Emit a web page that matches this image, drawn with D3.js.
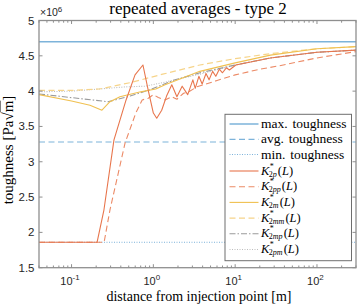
<!DOCTYPE html>
<html><head><meta charset="utf-8">
<script src="https://cdn.jsdelivr.net/npm/d3@7"></script>
<style>body{margin:0;background:#fff}</style></head>
<body>
<svg id="c" width="360" height="306"></svg>
<script>
// ---------- data ----------
const xMajorTicks = [0.1, 1, 10, 100];
const xTickExponents = ["-1", "0", "1", "2"];
const yTicks = [1.5e6, 2e6, 2.5e6, 3e6, 3.5e6, 4e6, 4.5e6, 5e6];
const yTickLabels = ["1.5", "2", "2.5", "3", "3.5", "4", "4.5", "5"];
const xDomain = [0.04, 300];
const yDomain = [1.5e6, 5e6];

const maxToughness = 4.7e6;
const avgToughness = 3.28e6;
const minToughness = 1.86e6;

// [distance (m), toughness (Pa sqrt m)]
const k2p = [[0.04,1.86e6],[0.205,1.86e6],[0.249,2.32e6],[0.33,3.31e6],[0.464,3.875e6],[0.597,4.23e6],[0.746,4.37e6],
  [0.87,4.0e6],[1.0,3.69e6],[1.10,3.616e6],[1.265,3.73e6],[1.45,3.93e6],[1.68,4.09e6],[1.94,3.92e6],[2.25,4.07e6],
  [2.63,3.95e6],[3.04,4.16e6],[3.25,4.04e6],[3.6,4.21e6],[3.95,4.10e6],[4.4,4.25e6],[4.8,4.16e6],[5.3,4.28e6],
  [5.8,4.21e6],[6.4,4.31e6],[7.0,4.26e6],[7.8,4.33e6],[8.5,4.30e6],[10.2,4.37e6],[27,4.47e6],[100,4.55e6],[300,4.58e6]];
const k2pp = [[0.04,1.86e6],[0.25,1.86e6],[0.295,2.32e6],[0.452,3.27e6],[0.61,3.69e6],[0.73,3.875e6],[0.867,3.90e6],
  [1.0,3.95e6],[1.15,3.91e6],[1.39,3.875e6],[1.68,3.92e6],[1.94,3.885e6],[2.34,3.97e6],[2.7,3.99e6],[3.4,4.06e6],
  [6,4.15e6],[10,4.23e6],[20,4.31e6],[35,4.36e6],[100,4.47e6],[300,4.56e6]];
const k2m = [[0.04,3.95e6],[0.1,3.86e6],[0.168,3.80e6],[0.235,3.73e6],[0.295,3.85e6],[0.39,3.92e6],[0.7,3.99e6],
  [1.07,4.03e6],[1.39,4.09e6],[3.7,4.28e6],[10,4.40e6],[27,4.51e6],[100,4.60e6],[300,4.63e6]];
const k2mm = [[0.04,4.01e6],[0.1,4.01e6],[0.22,4.03e6],[0.52,4.12e6],[1.3,4.24e6],[3.7,4.37e6],[10,4.46e6],
  [27,4.53e6],[100,4.60e6],[300,4.63e6]];
const k2mp = [[0.04,3.96e6],[0.279,3.85e6],[0.52,3.93e6],[0.91,4.02e6],[1.84,4.16e6],[3.72,4.26e6],[10,4.37e6],
  [27,4.47e6],[100,4.55e6],[300,4.58e6]];
const k2pm = [[0.04,3.99e6],[0.1,4.00e6],[0.22,4.03e6],[0.45,4.06e6],[0.8,4.07e6],[1.3,4.12e6],[3.7,4.24e6],
  [10,4.37e6],[27,4.47e6],[100,4.55e6],[300,4.58e6]];

const legendNames = ["max. toughness", "avg. toughness", "min. toughness"];
const kSubscripts = ["2p", "2pp", "2m", "2mm", "2mp", "2pm"];

// ---------- layout ----------
const L = 39, R = 356, T = 20.5, B = 267.7;
const svg = d3.select("#c");
const x = d3.scaleLog().domain(xDomain).range([L, R]);
const y = d3.scaleLinear().domain(yDomain).range([B, T]);

const cBlue = "#7db3da", cOrange = "#e8764d", cOrange2 = "#ec8a66", cYellow = "#f0c050", cYellow2 = "#f6d48a",
      cGray = "#9a9a9a", cGray2 = "#bdbdbd";

svg.append("clipPath").attr("id", "clip").append("rect")
  .attr("x", L).attr("y", T).attr("width", R - L).attr("height", B - T);
const plot = svg.append("g").attr("clip-path", "url(#clip)");

const styles = [
  {c: cBlue, d: null, w: 1.5},
  {c: cBlue, d: "6,3.5", w: 1.2},
  {c: cBlue, d: "1,1.5", w: 1.0},
  {c: cOrange, d: null, w: 1.1},
  {c: cOrange2, d: "6,3.5", w: 1.1},
  {c: cYellow, d: null, w: 1.1},
  {c: cYellow2, d: "6,3.5", w: 1.2},
  {c: cGray, d: "6,2,1.5,2", w: 1.1},
  {c: cGray2, d: "1,1.5", w: 1.1}
];

[maxToughness, avgToughness, minToughness].forEach((v, i) => {
  plot.append("line").attr("x1", L).attr("x2", R).attr("y1", y(v)).attr("y2", y(v))
    .attr("stroke", styles[i].c).attr("stroke-width", styles[i].w)
    .attr("stroke-dasharray", styles[i].d);
});

const line = d3.line().x(d => x(d[0])).y(d => y(d[1]));
const series = [k2p, k2pp, k2m, k2mm, k2mp, k2pm];
[k2pm, k2mp, k2mm, k2m, k2pp, k2p].forEach(s => {
  const i = series.indexOf(s) + 3;
  plot.append("path").datum(s).attr("d", line).attr("fill", "none")
    .attr("stroke", styles[i].c).attr("stroke-width", styles[i].w)
    .attr("stroke-dasharray", styles[i].d).attr("stroke-linejoin", "round");
});

// ---------- axes ----------
const axisColor = "#8f8f8f";
const sans = "'Liberation Sans', Arial, sans-serif";
const serif = "'Liberation Serif', 'Times New Roman', serif";
const ax = svg.append("g");
ax.append("rect").attr("x", L).attr("y", T).attr("width", R - L).attr("height", B - T)
  .attr("fill", "none").attr("stroke", axisColor).attr("stroke-width", 1.3);

const minor = [];
for (let e = -2; e <= 2; e++) for (let m = 2; m <= 9; m++) {
  const v = m * Math.pow(10, e);
  if (v >= xDomain[0] && v <= xDomain[1]) minor.push(v);
}
minor.forEach(v => {
  ax.append("line").attr("x1", x(v)).attr("x2", x(v)).attr("y1", B).attr("y2", B - 2.2).attr("stroke", axisColor);
  ax.append("line").attr("x1", x(v)).attr("x2", x(v)).attr("y1", T).attr("y2", T + 2.2).attr("stroke", axisColor);
});
xMajorTicks.forEach((v, i) => {
  ax.append("line").attr("x1", x(v)).attr("x2", x(v)).attr("y1", B).attr("y2", B - 3.5).attr("stroke", axisColor);
  ax.append("line").attr("x1", x(v)).attr("x2", x(v)).attr("y1", T).attr("y2", T + 3.5).attr("stroke", axisColor);
  const t = svg.append("text").attr("x", x(v) - 1.5).attr("y", B + 17).attr("text-anchor", "middle")
    .attr("font-family", sans).attr("font-size", 11).attr("fill", "#262626");
  t.append("tspan").text("10");
  t.append("tspan").attr("dy", -5).attr("font-size", 8).text(xTickExponents[i]);
});
yTicks.forEach((v, i) => {
  ax.append("line").attr("x1", L).attr("x2", L + 3.5).attr("y1", y(v)).attr("y2", y(v)).attr("stroke", axisColor);
  ax.append("line").attr("x1", R).attr("x2", R - 3.5).attr("y1", y(v)).attr("y2", y(v)).attr("stroke", axisColor);
  svg.append("text").attr("x", L - 4.5).attr("y", y(v) + 4).attr("text-anchor", "end")
    .attr("font-family", sans).attr("font-size", 11.5).attr("fill", "#262626")
    .text(yTickLabels[i]);
});
const ex = svg.append("text").attr("x", 40).attr("y", 16)
  .attr("font-family", sans).attr("font-size", 10.5).attr("fill", "#262626");
ex.append("tspan").text("\u00d710");
ex.append("tspan").attr("dy", -4.5).attr("font-size", 8).text("6");

// title and labels
svg.append("text").attr("x", 198).attr("y", 14).attr("text-anchor", "middle")
  .attr("font-family", serif).attr("font-size", 17).attr("fill", "#000").text("repeated averages - type 2");
svg.append("text").attr("x", 199).attr("y", 301).attr("text-anchor", "middle")
  .attr("font-family", serif).attr("font-size", 14).attr("fill", "#000").text("distance from injection point [m]");
const yl = svg.append("text").attr("transform", "translate(13,150) rotate(-90)").attr("text-anchor", "middle")
  .attr("font-family", serif).attr("font-size", 15).attr("fill", "#000");
yl.append("tspan").text("toughness [Pa\u221a");
yl.append("tspan").style("text-decoration", "overline").text("m");
yl.append("tspan").text("]");

// ---------- legend ----------
const lg = svg.append("g");
lg.append("rect").attr("x", 225).attr("y", 114.3).attr("width", 126.5).attr("height", 146.4)
  .attr("fill", "#fff").attr("stroke", "#6e6e6e").attr("stroke-width", 1);
const rowY = [124, 139.3, 154.5, 171, 186.7, 202.4, 218.1, 233.8, 249.5];
styles.forEach((s, i) => {
  lg.append("line").attr("x1", 229.5).attr("x2", 258.5).attr("y1", rowY[i]).attr("y2", rowY[i])
    .attr("stroke", s.c).attr("stroke-width", s.w).attr("stroke-dasharray", s.d);
  if (i < 3) {
    lg.append("text").attr("x", 261).attr("y", rowY[i] + 4).attr("font-family", serif)
      .attr("font-size", 13.5).attr("fill", "#000").attr("word-spacing", 1.5).text(legendNames[i]);
  } else {
    const sub = kSubscripts[i - 3];
    const t = lg.append("text").attr("x", 261).attr("y", rowY[i] + 3.5).attr("font-family", serif)
      .attr("font-size", 12.5).attr("fill", "#000");
    t.append("tspan").attr("font-style", "italic").text("K");
    t.append("tspan").attr("font-size", 8).attr("dy", -6).attr("dx", 0.5).text("*");
    t.append("tspan").attr("font-size", 8).attr("dy", 8).attr("dx", -5).text(sub[0]);
    t.append("tspan").attr("font-size", 8).attr("font-style", "italic").text(sub.slice(1));
    t.append("tspan").attr("dy", -2).attr("dx", 1).text("(");
    t.append("tspan").attr("font-style", "italic").text("L");
    t.append("tspan").text(")");
  }
});
</script>
</body></html>
